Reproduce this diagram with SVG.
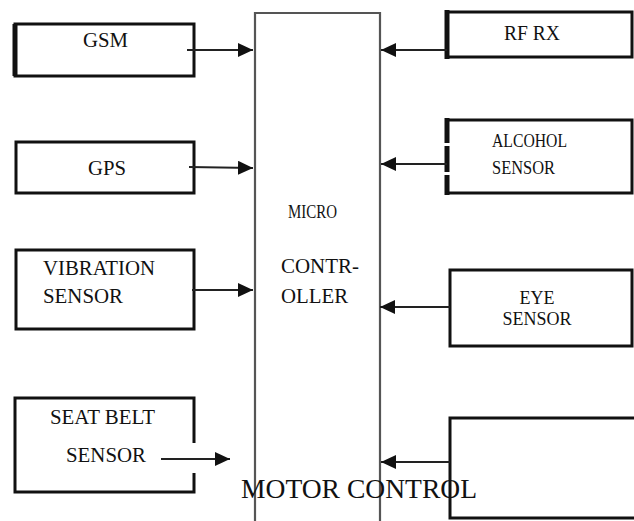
<svg xmlns="http://www.w3.org/2000/svg" width="634" height="521" viewBox="0 0 634 521">
<defs>
<style>
.box{fill:none;stroke:#111;stroke-width:3}
.thick{stroke:#111;stroke-width:5;fill:none}
.mc{fill:none;stroke:#555;stroke-width:2.2}
.wire{stroke:#222;stroke-width:2.2;fill:none}
.t{font-family:"Liberation Serif","Times New Roman",serif;fill:#111}
</style>
<marker id="ah" markerUnits="userSpaceOnUse" markerWidth="16" markerHeight="14" refX="15" refY="7" orient="auto">
<path d="M0,0 L15,7 L0,14 Z" fill="#111"/>
</marker>
</defs>
<rect width="634" height="521" fill="#fff"/>

<g id="microcontroller">
<path class="mc" d="M255,521 V13 H380 V521"/>
<text class="t" x="288" y="218" font-size="19" textLength="49" lengthAdjust="spacingAndGlyphs">MICRO</text>
<text class="t" x="281" y="273" font-size="20" textLength="78" lengthAdjust="spacingAndGlyphs">CONTR-</text>
<text class="t" x="281" y="303" font-size="20" textLength="67" lengthAdjust="spacingAndGlyphs">OLLER</text>
</g>

<g id="gsm">
<rect class="box" x="15" y="24" width="179" height="52"/>
<line class="thick" x1="15" y1="24" x2="15" y2="76"/>
<text class="t" x="83" y="47" font-size="20" textLength="45" lengthAdjust="spacingAndGlyphs">GSM</text>
</g>

<g id="gps">
<rect class="box" x="16" y="142" width="178" height="51"/>
<text class="t" x="88" y="175" font-size="20" textLength="38" lengthAdjust="spacingAndGlyphs">GPS</text>
</g>

<g id="vibration">
<rect class="box" x="16" y="250" width="178" height="79"/>
<text class="t" x="43" y="275" font-size="20" textLength="112" lengthAdjust="spacingAndGlyphs">VIBRATION</text>
<text class="t" x="43" y="303" font-size="20" textLength="80" lengthAdjust="spacingAndGlyphs">SENSOR</text>
</g>

<g id="seatbelt">
<path class="box" d="M194,443 V398 H15 V492 H194 V473"/>
<text class="t" x="50" y="424" font-size="20" textLength="105" lengthAdjust="spacingAndGlyphs">SEAT BELT</text>
<text class="t" x="66" y="462" font-size="20" textLength="80" lengthAdjust="spacingAndGlyphs">SENSOR</text>
</g>

<g id="rfrx">
<path class="box" d="M447,12 H632 V57 H447"/>
<line class="thick" x1="447" y1="10" x2="447" y2="59"/>
<text class="t" x="504" y="40" font-size="20" textLength="56" lengthAdjust="spacingAndGlyphs">RF RX</text>
</g>

<g id="alcohol">
<path class="box" d="M447,120 H632 V193 H447"/>
<line class="thick" x1="447" y1="118" x2="447" y2="195" stroke-dasharray="25,3,26,3,20"/>
<text class="t" x="492" y="147" font-size="19" textLength="75" lengthAdjust="spacingAndGlyphs">ALCOHOL</text>
<text class="t" x="492" y="174" font-size="19" textLength="63" lengthAdjust="spacingAndGlyphs">SENSOR</text>
</g>

<g id="eye">
<rect class="box" x="450" y="270" width="182" height="76"/>
<text class="t" x="537" y="304" font-size="18" text-anchor="middle">EYE</text>
<text class="t" x="537" y="325" font-size="18" text-anchor="middle">SENSOR</text>
</g>

<g id="motorcontrol">
<path class="box" d="M634,418 H450 V518 H634"/>
<text class="t" x="241" y="498" font-size="27" textLength="236" lengthAdjust="spacingAndGlyphs">MOTOR CONTROL</text>
</g>

<g id="connectors">
<line class="wire" x1="187" y1="50" x2="253" y2="50" marker-end="url(#ah)"/>
<line class="wire" x1="189" y1="167" x2="253" y2="168" marker-end="url(#ah)"/>
<line class="wire" x1="192" y1="290" x2="253" y2="290" marker-end="url(#ah)"/>
<line class="wire" x1="161" y1="459" x2="230" y2="459" marker-end="url(#ah)"/>
<line class="wire" x1="447" y1="50" x2="381" y2="50" marker-end="url(#ah)"/>
<line class="wire" x1="447" y1="164" x2="381" y2="164" marker-end="url(#ah)"/>
<line class="wire" x1="450" y1="307" x2="380" y2="307" marker-end="url(#ah)"/>
<line class="wire" x1="450" y1="462" x2="381" y2="462" marker-end="url(#ah)"/>
</g>
</svg>
